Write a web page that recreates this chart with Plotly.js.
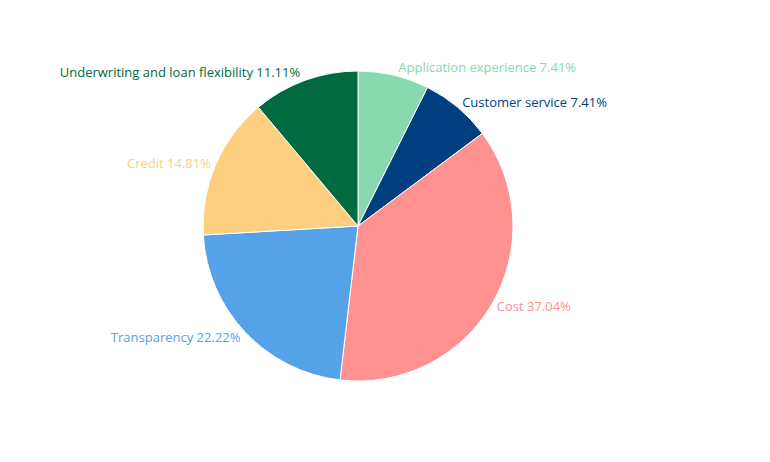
<!DOCTYPE html>
<html>
<head>
<meta charset="utf-8">
<script src="https://cdn.plot.ly/plotly-3.0.1.min.js"></script>
<style>html,body{margin:0;padding:0;background:#fff;}#chart{width:770px;height:462px;}</style>
</head>
<body>
<div id="chart"></div>
<script>
const labels = ["Application experience", "Customer service", "Cost", "Transparency", "Credit", "Underwriting and loan flexibility"];
const values = [2, 2, 10, 6, 4, 3];
const colors = ["#88d8b0", "#003f7f", "#ff9190", "#56a2e8", "#fecf7f", "#006a40"];

Plotly.newPlot("chart", [{
  type: "pie",
  labels: labels,
  values: values,
  sort: false,
  direction: "clockwise",
  rotation: 0,
  marker: {colors: colors, line: {color: "#ffffff", width: 1}},
  textposition: "outside",
  texttemplate: "%{label} %{percent:.2%}",
  outsidetextfont: {color: colors, size: 13, family: "'Open Sans', sans-serif"},
  hoverinfo: "none"
}], {
  width: 770,
  height: 462,
  showlegend: false,
  margin: {l: 100, r: 154, t: 71, b: 81, autoexpand: false},
  paper_bgcolor: "#ffffff",
  font: {family: "'Open Sans', sans-serif"}
}, {displayModeBar: false, staticPlot: true});
</script>
</body>
</html>
